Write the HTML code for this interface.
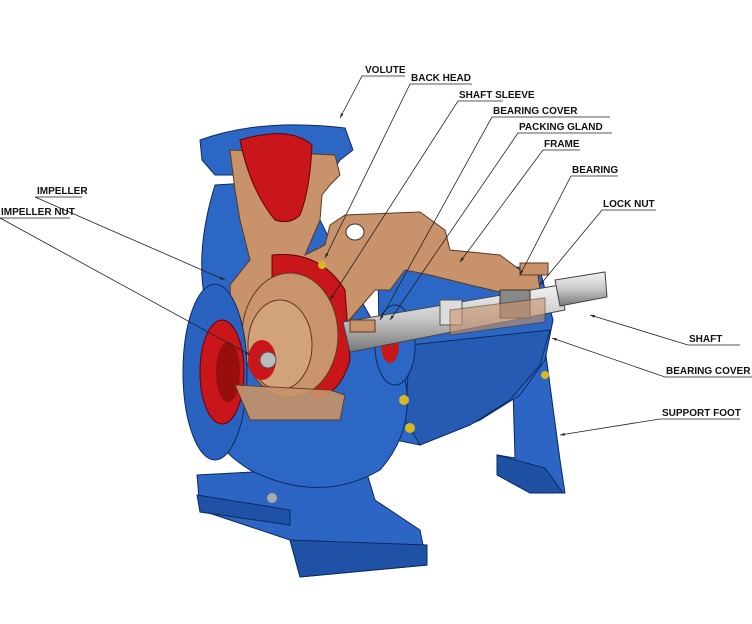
<!DOCTYPE html>
<html><head><meta charset="utf-8"><style>
html,body{margin:0;padding:0;background:#fff;}
svg{display:block}
text{font-family:"Liberation Sans",sans-serif;font-size:10px;font-weight:bold;fill:#111;}
</style></head><body>
<svg width="752" height="624" viewBox="0 0 752 624" xmlns="http://www.w3.org/2000/svg">
<defs>
<linearGradient id="sh" x1="0" y1="0" x2="0" y2="1"><stop offset="0" stop-color="#f2f2f2"/><stop offset=".5" stop-color="#c8c8c8"/><stop offset="1" stop-color="#777"/></linearGradient>
<marker id="ar" viewBox="0 0 10 10" refX="10" refY="5" markerWidth="6" markerHeight="6" orient="auto"><path d="M0,2 L10,5 L0,8 Z" fill="#222"/></marker>
</defs>
<!-- right foot -->
<polygon points="512,355 545,348 560,460 565,493 530,493 497,470 497,455 515,458" fill="#2c65c4" stroke="#0d2a60"/>
<polygon points="497,455 545,468 563,493 530,493 497,475" fill="#1e50a3" stroke="#0d2a60"/>
<!-- frame body -->
<polygon points="378,265 420,255 540,270 553,320 545,360 520,395 480,420 420,445 395,440 380,400" fill="#2d67c6" stroke="#0d2a60"/>
<polygon points="410,345 550,330 540,365 510,400 470,425 420,445 405,420" fill="#255bb3" stroke="#0d2a60"/>
<!-- left foot -->
<polygon points="297,450 360,450 375,500 420,530 427,565 300,577 290,540 200,510 197,475 290,470" fill="#2c65c4" stroke="#0d2a60"/>
<polygon points="290,540 427,545 427,565 300,577" fill="#1f52a6" stroke="#0d2a60"/>
<polygon points="197,495 290,510 290,525 200,512" fill="#1f52a6" stroke="#0d2a60"/>
<!-- volute body -->
<path d="M215,185 Q195,250 205,300 L190,340 Q185,430 250,470 Q320,505 380,470 Q415,430 405,380 L350,280 L300,180 Z" fill="#2d67c6" stroke="#0d2a60"/>
<!-- top flange -->
<path d="M200,140 Q260,118 345,128 L353,150 L340,160 L330,175 L215,175 L202,160 Z" fill="#2d67c6" stroke="#0d2a60"/>
<!-- bronze cut volute + back head -->
<path d="M230,150 L335,155 L340,175 L330,185 L322,195 L320,220 L305,255 L325,245 L330,225 L345,215 L420,212 L445,230 L450,250 L500,255 L520,270 L538,275 L540,290 L500,292 L470,285 L430,275 L405,270 L390,290 L375,290 L345,325 L335,310 L330,290 L300,285 L290,300 L255,300 L248,330 L232,330 L230,285 L250,260 L240,220 L235,190 Z" fill="#c8936b" stroke="#5a3a20"/>
<path d="M240,140 Q290,125 312,145 Q310,190 300,215 Q290,225 275,220 Q250,190 240,140 Z" fill="#c8161a" stroke="#600"/>
<ellipse cx="355" cy="232" rx="9" ry="8" fill="#fff" stroke="#333"/>
<!-- impeller -->
<path d="M272,255 Q320,250 345,290 L350,360 Q340,395 315,398 Q285,370 272,320 Z" fill="#c8161a" stroke="#600"/>
<ellipse cx="290" cy="335" rx="48" ry="62" fill="#c9946c" stroke="#5a3a20"/>
<ellipse cx="280" cy="345" rx="32" ry="45" fill="#d2a27a" stroke="#5a3a20"/>
<ellipse cx="262" cy="360" rx="14" ry="20" fill="#c8161a"/>
<ellipse cx="268" cy="360" rx="8" ry="8" fill="#bbb" stroke="#555"/>
<!-- left flange face -->
<ellipse cx="215" cy="372" rx="32" ry="88" fill="#2a62c0" stroke="#0d2a60"/>
<ellipse cx="222" cy="372" rx="22" ry="52" fill="#c8161a" stroke="#600"/>
<ellipse cx="228" cy="372" rx="12" ry="30" fill="#980e0e"/>
<path d="M235,385 L330,390 L345,395 L340,420 L250,420 Z" fill="#c8936b" stroke="#5a3a20" opacity=".9"/>
<!-- bearing housing -->
<ellipse cx="395" cy="345" rx="20" ry="40" fill="#2d67c6" stroke="#0d2a60"/>
<ellipse cx="390" cy="345" rx="9" ry="18" fill="#c8161a"/>
<!-- shaft -->
<polygon points="343,322 560,285 565,310 350,352" fill="url(#sh)" stroke="#444"/>
<polygon points="555,280 605,272 607,297 560,306" fill="url(#sh)" stroke="#444"/>
<rect x="500" y="290" width="30" height="28" fill="#888" stroke="#333"/>
<rect x="440" y="300" width="22" height="25" fill="#ddd" stroke="#555"/>
<rect x="520" y="263" width="28" height="12" fill="#c8936b" stroke="#5a3a20"/>
<rect x="350" y="320" width="25" height="12" fill="#c8936b" stroke="#5a3a20"/>
<polygon points="450,310 545,298 545,322 450,335" fill="#c8936b" stroke="#5a3a20" opacity=".6"/>
<circle cx="404" cy="400" r="5" fill="#d8b820"/><circle cx="410" cy="428" r="5" fill="#d8b820"/>
<circle cx="545" cy="375" r="4" fill="#d8b820"/><circle cx="272" cy="498" r="5" fill="#aaa"/>
<circle cx="322" cy="265" r="4" fill="#d8b820"/>
<!-- leaders -->
<g stroke="#222" stroke-width="0.8" fill="none" marker-end="url(#ar)">
<path d="M405,76 H362 L340,118"/>
<path d="M472,84 H410 L325,258"/>
<path d="M503,101 H458 L330,300"/>
<path d="M610,117 H492 L380,320"/>
<path d="M612,133 H518 L390,320"/>
<path d="M580,150 H543 L460,262"/>
<path d="M618,176 H571 L520,275"/>
<path d="M656,210 H602 L540,285"/>
<path d="M82,197 H35 L225,280"/>
<path d="M70,218 H0 L250,355"/>
<path d="M740,345 H688 L590,315"/>
<path d="M752,377 H665 L552,338"/>
<path d="M740,419 H660 L560,435"/>
</g>
<text x="365" y="73">VOLUTE</text>
<text x="411" y="81">BACK HEAD</text>
<text x="459" y="98">SHAFT SLEEVE</text>
<text x="493" y="114">BEARING COVER</text>
<text x="519" y="130">PACKING GLAND</text>
<text x="544" y="147">FRAME</text>
<text x="572" y="173">BEARING</text>
<text x="603" y="207">LOCK NUT</text>
<text x="37" y="194">IMPELLER</text>
<text x="1" y="215">IMPELLER NUT</text>
<text x="689" y="342">SHAFT</text>
<text x="666" y="374">BEARING COVER</text>
<text x="662" y="416">SUPPORT FOOT</text>
</svg>
</body></html>
